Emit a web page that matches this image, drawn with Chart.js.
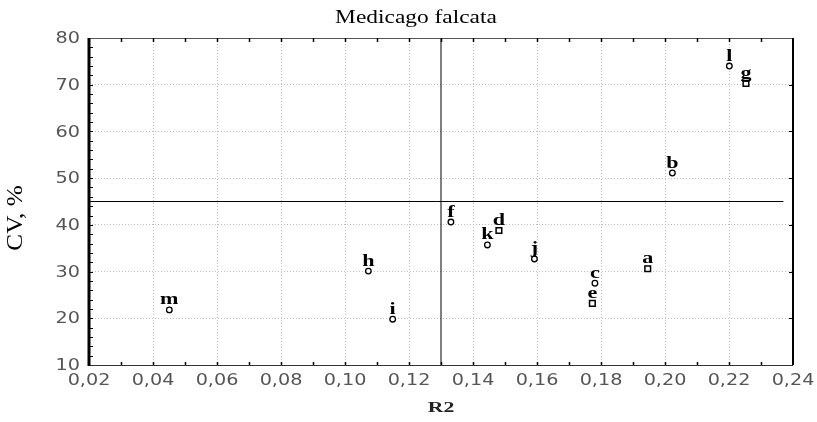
<!DOCTYPE html>
<html>
<head>
<meta charset="utf-8">
<script src="https://cdn.jsdelivr.net/npm/chart.js@4"></script>
<style>
  html, body { margin: 0; padding: 0; background: #ffffff; }
  #wrap { width: 817px; height: 422px; }
</style>
</head>
<body>
<div id="wrap"><canvas id="c" width="817" height="422"></canvas></div>
<script>
// ---- data ----
const pointLabels = ['a', 'b', 'c', 'd', 'e', 'f', 'g', 'h', 'i', 'j', 'k', 'l', 'm'];
const r2Values    = [0.1946, 0.2023, 0.1781, 0.1481, 0.1773, 0.1331, 0.2253, 0.1073, 0.1149, 0.1592, 0.1445, 0.2201, 0.0451];
const cvValues    = [30.6, 51.1, 27.5, 38.8, 23.2, 40.6, 70.3, 30.1, 19.8, 32.7, 35.7, 74.0, 21.8];
const markerKinds = ['square', 'circle', 'circle', 'square', 'square', 'circle', 'square', 'circle', 'circle', 'circle', 'circle', 'circle', 'circle'];
const hRefX = [0.02, 0.237];   // horizontal reference line extent (R2)
const hRefY = [45, 45];        // CV, %
const vRefX = [0.13, 0.13];    // vertical reference line (R2)
const vRefY = [10, 80];
const xTicks = [0.02, 0.04, 0.06, 0.08, 0.10, 0.12, 0.14, 0.16, 0.18, 0.20, 0.22, 0.24];
const yTicks = [10, 20, 30, 40, 50, 60, 70, 80];
const chartTitle = 'Medicago falcata';
const xTitle = 'R2';
const yTitle = 'CV, %';

// ---- build datasets ----
function pick(kind) {
  const pts = [];
  pointLabels.forEach((l, i) => {
    if (markerKinds[i] === kind) pts.push({ x: r2Values[i], y: cvValues[i], label: l });
  });
  return pts;
}
const circleData = pick('circle');
const squareData = pick('square');

function wideText(ctx, text, x, y, font, sx, align, baseline, color) {
  ctx.save();
  ctx.font = font;
  ctx.fillStyle = color;
  ctx.textAlign = align;
  ctx.textBaseline = baseline;
  ctx.translate(x, y);
  ctx.scale(sx, 1);
  ctx.fillText(text, 0, 0);
  ctx.restore();
}

const frameAndTicks = {
  id: 'frameAndTicks',
  afterDraw(chart) {
    const { ctx, chartArea: a, scales } = chart;
    const xs = scales.x, ys = scales.y;
    ctx.save();
    // top border
    ctx.strokeStyle = '#555';
    ctx.lineWidth = 1;
    ctx.beginPath(); ctx.moveTo(a.left, a.top + 0.5); ctx.lineTo(a.right, a.top + 0.5); ctx.stroke();
    // right border
    ctx.strokeStyle = '#000';
    ctx.lineWidth = 2;
    ctx.beginPath(); ctx.moveTo(a.right, a.top); ctx.lineTo(a.right, a.bottom); ctx.stroke();
    // bottom border
    ctx.strokeStyle = '#333';
    ctx.lineWidth = 1;
    ctx.beginPath(); ctx.moveTo(a.left, a.bottom + 0.5); ctx.lineTo(a.right, a.bottom + 0.5); ctx.stroke();
    // left border (thick)
    ctx.strokeStyle = '#000';
    ctx.lineWidth = 3;
    ctx.beginPath(); ctx.moveTo(a.left, a.top); ctx.lineTo(a.left, a.bottom + 1); ctx.stroke();
    // minor ticks x (top & bottom, inward)
    ctx.strokeStyle = '#000';
    ctx.lineWidth = 1.5;
    for (let v = 0.03; v < 0.2351; v += 0.01) {
      const px = Math.round(xs.getPixelForValue(v)) + 0.5;
      ctx.beginPath(); ctx.moveTo(px, a.bottom); ctx.lineTo(px, a.bottom - 3); ctx.stroke();
      ctx.beginPath(); ctx.moveTo(px, a.top); ctx.lineTo(px, a.top + 4); ctx.stroke();
    }
    // y ticks: left minor inward, right major inward
    ctx.lineWidth = 1;
    for (let v = 12; v < 80; v += 2) {
      const py = Math.round(ys.getPixelForValue(v)) + 0.5;
      ctx.beginPath(); ctx.moveTo(a.left, py); ctx.lineTo(a.left + 4, py); ctx.stroke();
    }
    for (let v = 20; v < 80; v += 10) {
      const py = Math.round(ys.getPixelForValue(v)) + 0.5;
      ctx.beginPath(); ctx.moveTo(a.right, py); ctx.lineTo(a.right - 4, py); ctx.stroke();
    }
    // tick labels
    const tickFont = '16px "DejaVu Sans", sans-serif';
    xTicks.forEach(v => {
      wideText(ctx, v.toFixed(2).replace('.', ','), xs.getPixelForValue(v), a.bottom + 16,
        tickFont, 1.2, 'center', 'middle', '#555');
    });
    yTicks.forEach(v => {
      wideText(ctx, String(v), a.left - 9, ys.getPixelForValue(v) + 1,
        tickFont, 1.2, 'right', 'middle', '#555');
    });
    // point letters
    [0, 1].forEach(di => {
      const meta = chart.getDatasetMeta(di);
      const ds = chart.data.datasets[di];
      meta.data.forEach((el, i) => {
        wideText(ctx, ds.data[i].label, el.x, el.y - 5.5,
          'bold 17px "Liberation Serif", serif', 1.3, 'center', 'alphabetic', '#000');
      });
    });
    // titles
    wideText(ctx, chartTitle, 416, 18, '18px "Liberation Serif", serif', 1.3, 'center', 'middle', '#000');
    wideText(ctx, xTitle, (a.left + a.right) / 2, 408, 'bold 15px "Liberation Serif", serif', 1.45, 'center', 'middle', '#222');
    ctx.save();
    ctx.font = '24px "Liberation Serif", serif';
    ctx.fillStyle = '#000';
    ctx.textAlign = 'center';
    ctx.textBaseline = 'middle';
    ctx.translate(16, 218);
    ctx.rotate(-Math.PI / 2);
    ctx.scale(1.05, 1);
    ctx.fillText(yTitle, 0, 0);
    ctx.restore();
    ctx.restore();
  }
};

new Chart(document.getElementById('c'), {
  type: 'scatter',
  data: {
    datasets: [
      {
        label: 'circle',
        data: circleData,
        pointStyle: 'circle',
        pointRadius: 2.8,
        pointBorderWidth: 1.3,
        pointBorderColor: '#000',
        pointBackgroundColor: '#fff',
        showLine: false
      },
      {
        label: 'square',
        data: squareData,
        pointStyle: 'rect',
        pointRadius: 4,
        pointBorderWidth: 1.5,
        pointBorderColor: '#000',
        pointBackgroundColor: '#fff',
        showLine: false
      },
      {
        label: 'h-ref',
        data: hRefX.map((x, i) => ({ x, y: hRefY[i] })),
        showLine: true,
        borderColor: '#000',
        borderWidth: 1,
        pointRadius: 0
      },
      {
        label: 'v-ref',
        data: vRefX.map((x, i) => ({ x, y: vRefY[i] })),
        showLine: true,
        borderColor: '#000',
        borderWidth: 1,
        pointRadius: 0
      }
    ]
  },
  options: {
    responsive: false,
    animation: false,
    devicePixelRatio: 1,
    layout: { padding: { left: 0, right: 24, top: 38, bottom: 0 } },
    plugins: {
      legend: { display: false },
      tooltip: { enabled: false },
      title: { display: false }
    },
    scales: {
      x: {
        type: 'linear',
        min: 0.02,
        max: 0.24,
        afterBuildTicks(scale) { scale.ticks = xTicks.map(v => ({ value: v })); },
        afterFit(scale) { scale.height = 57; },
        ticks: { display: false },
        grid: { color: '#bdbdbd', lineWidth: 1, drawTicks: false },
        border: { display: false, dash: [1, 2] },
        title: { display: false }
      },
      y: {
        type: 'linear',
        min: 10,
        max: 80,
        afterBuildTicks(scale) { scale.ticks = yTicks.map(v => ({ value: v })); },
        afterFit(scale) { scale.width = 89; },
        ticks: { display: false },
        grid: { color: '#bdbdbd', lineWidth: 1, drawTicks: false },
        border: { display: false, dash: [1, 2] }
      }
    }
  },
  plugins: [frameAndTicks]
});
</script>
</body>
</html>
